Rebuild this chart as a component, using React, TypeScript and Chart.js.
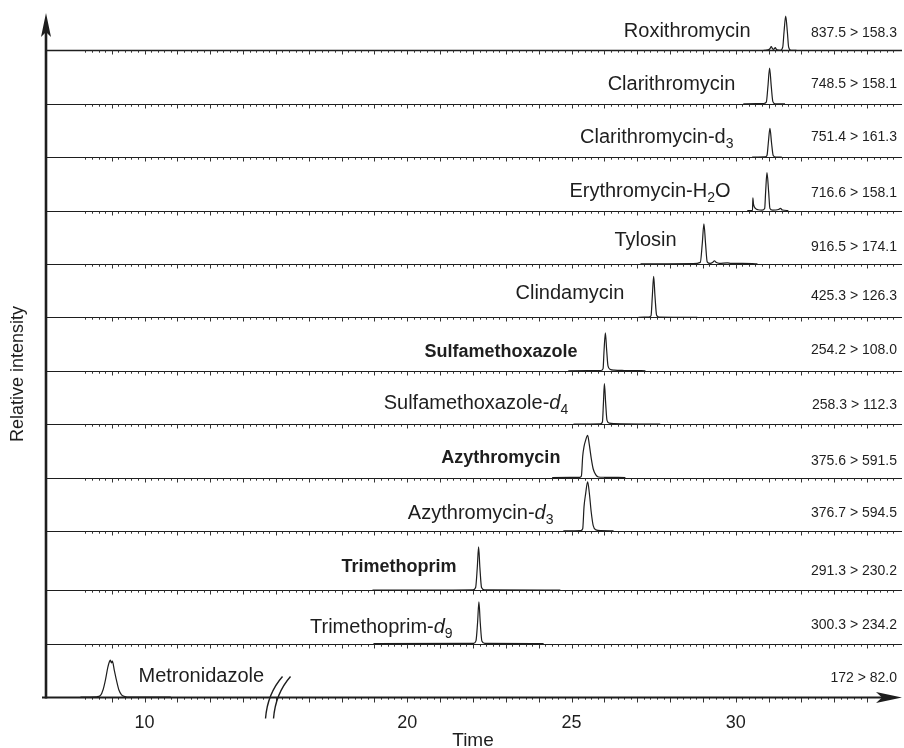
import React, { useEffect, useRef } from "react";
import { Chart, registerables } from "chart.js";

Chart.register(...registerables);

// ---------------- DATA ----------------
// Rows listed from top to bottom
const COMPOUND_LABELS: any[] = [
  [{ t: "Roxithromycin" }],
  [{ t: "Clarithromycin" }],
  [{ t: "Clarithromycin-d" }, { t: "3", sub: true }],
  [{ t: "Erythromycin-H" }, { t: "2", sub: true }, { t: "O" }],
  [{ t: "Tylosin" }],
  [{ t: "Clindamycin" }],
  [{ t: "Sulfamethoxazole" }],
  [{ t: "Sulfamethoxazole-" }, { t: "d", it: true }, { t: "4", sub: true }],
  [{ t: "Azythromycin" }],
  [{ t: "Azythromycin-" }, { t: "d", it: true }, { t: "3", sub: true }],
  [{ t: "Trimethoprim" }],
  [{ t: "Trimethoprim-" }, { t: "d", it: true }, { t: "9", sub: true }],
  [{ t: "Metronidazole" }],
];

const TRANSITIONS = [
  "837.5 > 158.3",
  "748.5 > 158.1",
  "751.4 > 161.3",
  "716.6 > 158.1",
  "916.5 > 174.1",
  "425.3 > 126.3",
  "254.2 > 108.0",
  "258.3 > 112.3",
  "375.6 > 591.5",
  "376.7 > 594.5",
  "291.3 > 230.2",
  "300.3 > 234.2",
  "172 > 82.0",
];

// Baseline level of each row (in row units, bottom row = 0)
const ROW_BASE = [12.11, 11.11, 10.11, 9.11, 8.11, 7.11, 6.11, 5.11, 4.11, 3.11, 2, 1, 0];

// Time axis (minutes); the axis is broken, hiding BREAK_GAP minutes after BREAK_TIME
const TIME_TICKS = [10, 20, 25, 30];
const BREAK_TIME = 14.14;
const BREAK_GAP = 2;
const AXIS_MIN = 7;
const AXIS_MAX = 35;

// Chromatogram traces: [time (min), relative intensity (row heights)]
const ROXITHROMYCIN = [[30.85, 0], [30.98, 0.01], [31.04, 0.03], [31.08, 0.07], [31.12, 0.03], [31.16, 0.02], [31.2, 0.05], [31.25, 0.01], [31.36, 0], [31.43, 0.06], [31.47, 0.35], [31.52, 0.64], [31.57, 0.35], [31.61, 0.06], [31.68, 0], [31.85, 0]];
const CLARITHROMYCIN = [[30.23, 0], [30.85, 0.005], [30.93, 0.03], [30.98, 0.33], [31.03, 0.67], [31.08, 0.33], [31.13, 0.04], [31.2, 0], [31.5, 0]];
const CLARITHROMYCIN_D3 = [[30.5, 0], [30.9, 0.004], [30.95, 0.03], [30.99, 0.26], [31.04, 0.54], [31.09, 0.26], [31.14, 0.03], [31.22, 0], [31.4, 0]];
const ERYTHROMYCIN_H2O = [[30.35, 0], [30.51, 0.005], [30.52, 0.24], [30.54, 0.12], [30.6, 0.04], [30.68, 0.015], [30.8, 0.01], [30.88, 0.04], [30.91, 0.36], [30.95, 0.71], [31.0, 0.36], [31.04, 0.04], [31.12, 0.01], [31.3, 0.02], [31.36, 0.04], [31.42, 0.01], [31.6, 0]];
const TYLOSIN = [[27.1, 0], [28.7, 0.005], [28.92, 0.03], [28.98, 0.38], [29.03, 0.75], [29.08, 0.38], [29.13, 0.04], [29.22, 0.01], [29.3, 0.03], [29.35, 0.06], [29.4, 0.03], [29.5, 0.01], [29.75, 0.02], [29.85, 0.01], [30.2, 0.012], [30.66, 0]];
const CLINDAMYCIN = [[27.04, 0], [27.35, 0.005], [27.42, 0.03], [27.46, 0.4], [27.5, 0.77], [27.54, 0.4], [27.59, 0.04], [27.66, 0.005], [28.83, 0]];
const SULFAMETHOXAZOLE = [[24.9, 0], [25.9, 0.005], [25.96, 0.04], [25.99, 0.38], [26.03, 0.71], [26.07, 0.38], [26.11, 0.09], [26.17, 0.03], [26.3, 0.01], [26.6, 0.005], [27.25, 0]];
const SULFAMETHOXAZOLE_D4 = [[25.06, 0], [25.88, 0.005], [25.94, 0.04], [25.97, 0.38], [26.0, 0.76], [26.04, 0.38], [26.08, 0.07], [26.15, 0.02], [26.3, 0.01], [27.7, 0]];
const AZYTHROMYCIN = [[24.41, 0], [25.25, 0.005], [25.3, 0.03], [25.34, 0.4], [25.38, 0.58], [25.43, 0.7], [25.49, 0.79], [25.54, 0.62], [25.6, 0.36], [25.66, 0.16], [25.74, 0.05], [25.82, 0.01], [26.0, 0.005], [26.64, 0]];
const AZYTHROMYCIN_D3 = [[24.75, 0], [25.28, 0.005], [25.34, 0.04], [25.38, 0.45], [25.43, 0.7], [25.49, 0.92], [25.54, 0.72], [25.6, 0.35], [25.66, 0.1], [25.74, 0.02], [25.9, 0.005], [26.28, 0]];
const TRIMETHOPRIM = [[18.94, 0], [22.0, 0.005], [22.08, 0.05], [22.13, 0.42], [22.17, 0.81], [22.21, 0.42], [22.26, 0.05], [22.35, 0.005], [24.66, 0]];
const TRIMETHOPRIM_D9 = [[18.97, 0], [22.02, 0.005], [22.09, 0.05], [22.14, 0.4], [22.18, 0.78], [22.22, 0.4], [22.27, 0.05], [22.36, 0.005], [24.15, 0]];
const METRONIDAZOLE = [[8.05, 0], [8.55, 0.005], [8.66, 0.03], [8.74, 0.14], [8.81, 0.32], [8.88, 0.55], [8.93, 0.66], [8.96, 0.69], [8.99, 0.64], [9.02, 0.67], [9.08, 0.5], [9.15, 0.3], [9.22, 0.13], [9.3, 0.04], [9.4, 0.01], [9.55, 0], [10.8, 0]];

const TRACES = [
  ROXITHROMYCIN, CLARITHROMYCIN, CLARITHROMYCIN_D3, ERYTHROMYCIN_H2O, TYLOSIN,
  CLINDAMYCIN, SULFAMETHOXAZOLE, SULFAMETHOXAZOLE_D4, AZYTHROMYCIN, AZYTHROMYCIN_D3,
  TRIMETHOPRIM, TRIMETHOPRIM_D9, METRONIDAZOLE,
];

// ---------------- LAYOUT / STYLE ----------------
const FONT = '"Liberation Sans", Arial, Helvetica, sans-serif';
const INK = "#1e1e1e";
const BOLD_LABEL = [false, false, false, false, false, false, true, false, true, false, true, false, false];
// right edge of compound name (axis display units) and lift of its centre above the baseline (px)
const NAME_RIGHT = [28.45, 27.99, 27.93, 27.84, 26.2, 24.61, 23.18, 22.9, 22.66, 22.45, 19.5, 19.38, 13.64];
const NAME_LIFT = [21, 21, 21.5, 20.3, 25, 26, 20, 22.6, 21, 19, 25, 18, 22];
const MRM_LIFT = [18, 21, 21, 18.5, 18.5, 22.5, 21.5, 20, 17.5, 19, 20, 20, 20];

const toDisplay = (t: number) => (t > BREAK_TIME + 0.5 ? t - BREAK_GAP : t);

function drawRich(ctx: any, parts: any[], xRight: number, yMid: number, size: number, bold: boolean, color: string) {
  const fontFor = (p: any) =>
    p.sub
      ? `${bold ? "bold " : ""}${Math.round(size * 0.68)}px ${FONT}`
      : `${p.it ? "italic " : ""}${bold ? "bold " : ""}${size}px ${FONT}`;
  let total = 0;
  const widths = parts.map((p) => {
    ctx.font = fontFor(p);
    const w = ctx.measureText(p.t).width;
    total += w;
    return w;
  });
  let x = xRight - total;
  const baseline = yMid + size * 0.36;
  ctx.textAlign = "left";
  ctx.textBaseline = "alphabetic";
  ctx.fillStyle = color;
  parts.forEach((p, i) => {
    ctx.font = fontFor(p);
    ctx.fillText(p.t, x, p.sub ? baseline + size * 0.24 : baseline);
    x += widths[i];
  });
}

const decorPlugin = {
  id: "decor",
  beforeDatasetsDraw(chart: any) {
    const { ctx, chartArea, scales } = chart;
    const xs = scales.x;
    const ys = scales.y;
    ctx.save();
    ctx.strokeStyle = INK;
    ROW_BASE.forEach((b, i) => {
      const y = Math.round(ys.getPixelForValue(b)) + 0.5;
      const last = i === ROW_BASE.length - 1;
      if (!last) {
        ctx.lineWidth = i === 0 ? 1.6 : 1.1;
        ctx.beginPath();
        ctx.moveTo(chartArea.left, y);
        ctx.lineTo(chartArea.right + 2, y);
        ctx.stroke();
      }
      // tick marks every 0.2 display units, longer at whole units
      ctx.lineWidth = 1;
      ctx.strokeStyle = "#333";
      for (let k = 41; k <= 165; k++) {
        const d = k / 5;
        const x = Math.round(xs.getPixelForValue(d)) + 0.5;
        if (last && x > chartArea.right - 26) continue;
        if (x > chartArea.right) continue;
        const major = k % 5 === 0;
        ctx.beginPath();
        ctx.moveTo(x, y);
        ctx.lineTo(x, y + (major ? (last ? 5 : 4) : 2.2));
        ctx.stroke();
      }
      ctx.strokeStyle = INK;
    });
    ctx.restore();
  },
  afterDatasetsDraw(chart: any) {
    const { ctx, chartArea, scales } = chart;
    const xs = scales.x;
    const ys = scales.y;
    ctx.save();
    ctx.strokeStyle = INK;
    ctx.fillStyle = INK;

    // x axis (bottom row baseline) with arrow
    const y0 = Math.round(ys.getPixelForValue(ROW_BASE[ROW_BASE.length - 1])) + 0.5;
    const tipX = chartArea.right + 2;
    ctx.lineWidth = 2.2;
    ctx.beginPath();
    ctx.moveTo(chartArea.left - 4, y0);
    ctx.lineTo(tipX - 10, y0);
    ctx.stroke();
    ctx.beginPath();
    ctx.moveTo(tipX, y0);
    ctx.lineTo(tipX - 26, y0 - 5.5);
    ctx.lineTo(tipX - 20, y0);
    ctx.lineTo(tipX - 26, y0 + 5.5);
    ctx.closePath();
    ctx.fill();

    // y axis with arrow
    const ax = chartArea.left;
    const tipY = chartArea.top;
    ctx.lineWidth = 2.6;
    ctx.beginPath();
    ctx.moveTo(ax, y0 + 1);
    ctx.lineTo(ax, tipY + 10);
    ctx.stroke();
    ctx.beginPath();
    ctx.moveTo(ax, tipY);
    ctx.lineTo(ax - 5, tipY + 24);
    ctx.lineTo(ax, tipY + 19);
    ctx.lineTo(ax + 5, tipY + 24);
    ctx.closePath();
    ctx.fill();

    // axis break marks
    const bx = xs.getPixelForValue(BREAK_TIME);
    ctx.lineWidth = 1.4;
    [-4, 4].forEach((off) => {
      ctx.beginPath();
      ctx.moveTo(bx + off - 11, y0 + 21);
      ctx.quadraticCurveTo(bx + off - 9, y0 - 4, bx + off + 6, y0 - 21);
      ctx.stroke();
    });

    // time tick labels
    ctx.font = `18px ${FONT}`;
    ctx.textAlign = "center";
    ctx.textBaseline = "middle";
    TIME_TICKS.forEach((t) => {
      ctx.fillText(String(t), xs.getPixelForValue(toDisplay(t)), y0 + 26);
    });

    // axis titles
    ctx.font = `19px ${FONT}`;
    ctx.fillText("Time", (chartArea.left + chartArea.right) / 2, y0 + 43);
    ctx.save();
    const yTop = ys.getPixelForValue(ROW_BASE[0]);
    ctx.translate(18, (yTop + y0) / 2);
    ctx.rotate(-Math.PI / 2);
    ctx.font = `18px ${FONT}`;
    ctx.fillText("Relative intensity", 0, 0);
    ctx.restore();

    // row labels
    ROW_BASE.forEach((b, i) => {
      const y = ys.getPixelForValue(b);
      drawRich(ctx, COMPOUND_LABELS[i], xs.getPixelForValue(NAME_RIGHT[i]), y - NAME_LIFT[i], BOLD_LABEL[i] ? 18 : 20, BOLD_LABEL[i], INK);
      drawRich(ctx, [{ t: TRANSITIONS[i] }], chartArea.right - 3, y - MRM_LIFT[i], 14, false, INK);
    });
    ctx.restore();
  },
};

export default function App() {
  const ref = useRef<HTMLCanvasElement | null>(null);
  useEffect(() => {
    document.body.style.margin = "0";
    const canvas = ref.current;
    if (!canvas) return;
    const datasets = TRACES.map((tr, i) => ({
      label: TRANSITIONS[i],
      data: tr.map(([t, v]) => ({ x: toDisplay(t), y: ROW_BASE[i] + v })),
      borderColor: INK,
      borderWidth: 1.2,
      pointRadius: 0,
      fill: false,
      cubicInterpolationMode: "monotone" as const,
    }));
    const chart = new Chart(canvas, {
      type: "line",
      data: { datasets },
      options: {
        animation: false,
        responsive: false,
        devicePixelRatio: 1,
        maintainAspectRatio: false,
        layout: { padding: { left: 46, right: 4, top: 13, bottom: 51 } },
        scales: {
          x: { type: "linear", min: AXIS_MIN, max: 33, display: false },
          y: { type: "linear", min: 0, max: 12.81, display: false },
        },
        plugins: { legend: { display: false }, tooltip: { enabled: false } },
        elements: { point: { radius: 0 } },
      },
      plugins: [decorPlugin],
    });
    return () => chart.destroy();
  }, []);
  return (
    <div style={{ position: "fixed", left: 0, top: 0, width: 904, height: 748, background: "#fff" }}>
      <canvas ref={ref} width={904} height={748} />
    </div>
  );
}
